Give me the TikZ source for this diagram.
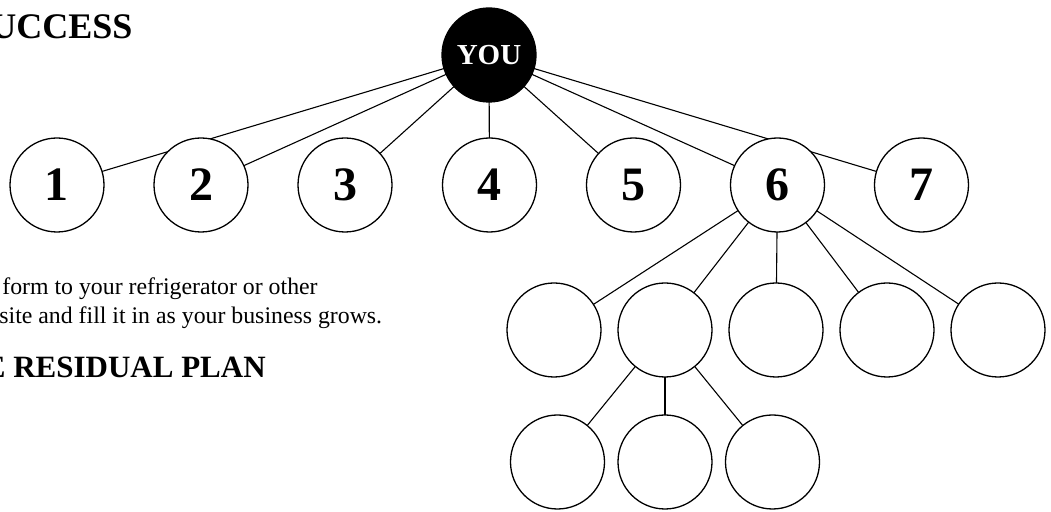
\documentclass[tikz,border=0pt]{standalone}
\usepackage{fontspec}
\setmainfont{Liberation Serif}
\usepackage{tikz}
\usetikzlibrary{backgrounds}

\begin{document}
\begin{tikzpicture}[x=0.5pt,y=-0.5pt,
    member/.style={circle,draw,line width=0.65pt,fill=white,minimum size=47pt,inner sep=0pt,
      font=\fontsize{24}{24}\selectfont\bfseries},
    sponsor/.style={member,fill=black,text=white,font=\fontsize{14.5}{14.5}\selectfont\bfseries},
    link/.style={line width=0.55pt},
    note/.style={anchor=base west,inner sep=0pt,font=\fontsize{11.9}{14}\selectfont},
    heading/.style={anchor=base west,inner sep=0pt,font=\fontsize{15.5}{16}\selectfont\bfseries}]
    \useasboundingbox (0,0) rectangle (1051,512);
    % the texts at the left, cut by the page edge
    \node[heading,font=\fontsize{18}{18}\selectfont\bfseries] (title) at (-10,38.5) {UCCESS};
    \node[note] (hintA) at (2,295) {form to your refrigerator or other};
    \node[note] (hintB) at (-1,323.5) {site and fill it in as your business grows.};
    \node[heading] (plan) at (-15.5,377.5) {E RESIDUAL PLAN};
    % the tree
    \node[sponsor] (you) at (489,55) {YOU};
    \foreach \n/\x in {1/57,2/201,3/345,4/489.5,5/633.5,6/777.5,7/921.5}
      \node[member] (m\n) at (\x,185) {\n};
    \foreach \n/\x in {1/554,2/665,3/776,4/887,5/998}
      \node[member] (d\n) at (\x,330) {};
    \foreach \n/\x in {1/557.5,2/665,3/772.5}
      \node[member] (g\n) at (\x,462) {};
    \begin{scope}[on background layer]
      \foreach \n in {1,...,7}
        \draw[link] (you.center) -- (m\n.center);
      \foreach \n in {1,...,5}
        \draw[link] (m6.center) -- (d\n.center);
      \foreach \n in {1,2,3}
        \draw[link] (d2.center) -- (g\n.center);
    \end{scope}
\end{tikzpicture}
\end{document}
